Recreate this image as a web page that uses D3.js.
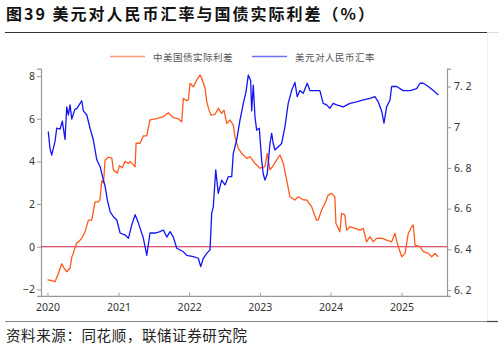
<!DOCTYPE html>
<html><head><meta charset="utf-8">
<script src="https://cdn.jsdelivr.net/npm/d3@7"></script>
<style>
html,body{margin:0;padding:0;background:#fff;}
svg{display:block;}
</style>
</head><body>
<svg id="c" width="504" height="348"></svg>
<script>
// ---- data (decimal year, value) ----
const titleText = "图39 美元对人民币汇率与国债实际利差（%）";
const sourceText = "资料来源：同花顺，联储证券研究院";
const seriesNames = ["中美国债实际利差", "美元对人民币汇率"];
const yearTicks = [2020, 2021, 2022, 2023, 2024, 2025];
const leftTicks = [-2, 0, 2, 4, 6, 8];
const rightTicks = [6.2, 6.4, 6.6, 6.8, 7.0, 7.2];

// 中美国债实际利差 (left axis, %)
const spreadData = [
[2020.00,-1.55],[2020.05,-1.58],[2020.106,-1.64],[2020.148,-1.3],[2020.20,-0.8],[2020.233,-1.0],
[2020.27,-1.17],[2020.318,-1.0],[2020.342,-0.5],[2020.364,-0.3],[2020.41,0.17],[2020.445,0.25],
[2020.483,0.4],[2020.53,0.7],[2020.576,1.25],[2020.624,1.25],[2020.671,2.1],[2020.717,2.1],
[2020.74,2.2],[2020.766,3.1],[2020.79,3.0],[2020.812,4.05],[2020.859,4.2],[2020.907,4.15],
[2020.929,3.6],[2020.986,3.45],[2021.014,3.8],[2021.052,3.7],[2021.095,4.0],[2021.141,3.9],
[2021.165,4.0],[2021.208,3.85],[2021.236,3.75],[2021.25,4.85],[2021.306,4.85],[2021.353,5.2],
[2021.40,5.2],[2021.447,5.95],[2021.542,6.0],[2021.636,6.1],[2021.706,6.28],[2021.777,6.05],
[2021.843,6.0],[2021.895,5.86],[2021.918,6.95],[2021.966,6.85],[2021.989,6.88],[2022.013,7.66],
[2022.059,7.5],[2022.107,7.81],[2022.154,8.05],[2022.178,7.9],[2022.225,7.43],[2022.249,6.8],
[2022.281,6.4],[2022.309,6.17],[2022.366,6.2],[2022.412,6.49],[2022.46,6.25],[2022.493,6.4],
[2022.531,5.78],[2022.578,5.94],[2022.624,5.7],[2022.648,5.16],[2022.695,4.61],[2022.743,4.38],
[2022.814,4.14],[2022.86,4.22],[2022.93,3.91],[2023.001,3.68],[2023.072,3.75],[2023.104,4.38],
[2023.143,3.6],[2023.189,3.8],[2023.237,4.06],[2023.284,4.3],[2023.331,3.91],[2023.379,3.13],
[2023.425,2.34],[2023.496,2.19],[2023.542,2.34],[2023.613,2.2],[2023.661,2.19],[2023.732,1.88],
[2023.80,1.25],[2023.825,1.25],[2023.873,1.72],[2023.92,2.03],[2023.966,2.42],[2024.014,2.5],
[2024.06,2.34],[2024.075,1.1],[2024.131,0.7],[2024.155,1.56],[2024.201,1.49],[2024.226,0.78],
[2024.272,0.94],[2024.343,0.86],[2024.414,0.78],[2024.46,0.86],[2024.508,0.23],[2024.555,0.47],
[2024.602,0.23],[2024.65,0.39],[2024.72,0.4],[2024.79,0.31],[2024.861,0.23],[2024.908,0.63],
[2024.94,0.16],[2025.003,-0.47],[2025.05,-0.31],[2025.096,0.63],[2025.144,0.94],[2025.167,1.02],
[2025.191,0.08],[2025.261,0.0],[2025.308,-0.23],[2025.379,-0.31],[2025.427,-0.47],[2025.473,-0.31],
[2025.52,-0.47]
];

// 美元对人民币汇率 (right axis)
const fxData = [
[2020.011,6.978],[2020.035,6.896],[2020.059,6.863],[2020.106,6.93],[2020.13,6.995],[2020.177,6.99],
[2020.209,7.03],[2020.247,6.94],[2020.271,7.10],[2020.294,7.06],[2020.318,7.11],[2020.342,7.04],
[2020.388,7.09],[2020.412,7.09],[2020.459,7.117],[2020.483,7.13],[2020.506,7.08],[2020.554,7.06],
[2020.60,6.995],[2020.647,6.937],[2020.695,6.84],[2020.742,6.806],[2020.788,6.74],[2020.812,6.71],
[2020.845,6.64],[2020.883,6.585],[2020.929,6.56],[2020.977,6.544],[2021.024,6.48],[2021.095,6.47],
[2021.141,6.454],[2021.189,6.52],[2021.236,6.57],[2021.282,6.53],[2021.353,6.454],[2021.401,6.37],
[2021.447,6.48],[2021.518,6.48],[2021.589,6.487],[2021.636,6.495],[2021.684,6.46],[2021.73,6.487],
[2021.777,6.46],[2021.825,6.405],[2021.918,6.388],[2021.966,6.37],[2022.059,6.364],[2022.13,6.356],
[2022.164,6.315],[2022.20,6.356],[2022.249,6.38],[2022.295,6.397],[2022.319,6.577],[2022.342,6.61],
[2022.376,6.79],[2022.412,6.675],[2022.46,6.74],[2022.507,6.716],[2022.554,6.757],[2022.602,6.757],
[2022.624,6.87],[2022.672,6.937],[2022.719,7.035],[2022.766,7.117],[2022.804,7.174],[2022.836,7.256],
[2022.87,7.23],[2022.884,7.08],[2022.907,7.207],[2022.931,7.05],[2022.955,6.986],[2022.992,6.995],
[2023.025,6.84],[2023.048,6.77],[2023.072,6.74],[2023.104,6.77],[2023.143,6.92],[2023.167,6.97],
[2023.189,6.92],[2023.213,6.888],[2023.26,6.904],[2023.308,6.92],[2023.354,7.0],[2023.401,7.117],
[2023.449,7.18],[2023.496,7.22],[2023.528,7.15],[2023.566,7.18],[2023.613,7.167],[2023.67,7.216],
[2023.708,7.18],[2023.849,7.18],[2023.895,7.117],[2023.944,7.11],[2023.99,7.093],[2024.037,7.117],
[2024.085,7.11],[2024.178,7.10],[2024.273,7.117],[2024.367,7.125],[2024.46,7.134],[2024.555,7.142],
[2024.625,7.15],[2024.672,7.125],[2024.72,7.08],[2024.753,7.02],[2024.79,7.10],[2024.838,7.134],
[2024.861,7.2],[2024.932,7.2],[2025.025,7.18],[2025.12,7.18],[2025.215,7.19],[2025.261,7.216],
[2025.308,7.216],[2025.379,7.2],[2025.45,7.18],[2025.52,7.158]
];

// ---- helpers ----
function toDate(t){
  const y = Math.floor(t);
  const a = new Date(y,0,1), b = new Date(y+1,0,1);
  return new Date(+a + (t-y)*(b-a));
}

const svg = d3.select("#c");
const font = "'Noto Sans CJK SC','Noto Sans',sans-serif";

const plotL = 41, plotR = 447, plotT = 68.6, plotB = 295.8;

const x = d3.scaleTime()
  .domain([new Date(2020,0,1), new Date(2025,0,1)])
  .range([47.5, 401.5]);
const yL = d3.scaleLinear().domain([-2.3, 8.35]).range([plotB, plotT]);
const yR = d3.scaleLinear().domain([6.1715, 7.288]).range([plotB, plotT]);

// title
svg.append("text").attr("x",6).attr("y",20)
  .attr("font-family",font).attr("font-weight","bold").attr("font-size",16)
  .attr("letter-spacing","2px")
  .attr("fill","#111").text(titleText);
svg.append("line").attr("x1",5).attr("x2",487).attr("y1",32.5).attr("y2",32.5)
  .attr("stroke","#333").attr("stroke-width",1);
svg.append("line").attr("x1",487).attr("x2",499).attr("y1",32.5).attr("y2",32.5)
  .attr("stroke","#ddd").attr("stroke-width",1);
svg.append("line").attr("x1",487.5).attr("x2",487.5).attr("y1",33).attr("y2",320)
  .attr("stroke","#f0f0f0").attr("stroke-width",1);
// footer
svg.append("line").attr("x1",5).attr("x2",487).attr("y1",321.5).attr("y2",321.5)
  .attr("stroke","#888").attr("stroke-width",1);
svg.append("line").attr("x1",487).attr("x2",498).attr("y1",321.5).attr("y2",321.5)
  .attr("stroke","#444").attr("stroke-width",1.2);
svg.append("text").attr("x",6).attr("y",341)
  .attr("font-family",font).attr("font-size",14.5).attr("letter-spacing","0.6px")
  .attr("fill","#222").text(sourceText);

// axes
const axisColor = "#999";
const gL = svg.append("g").attr("transform",`translate(${plotL},0)`)
  .call(d3.axisLeft(yL).tickValues(leftTicks).tickSize(4).tickFormat(d=>d===0?"0":(d<0?"\u2212"+Math.abs(d):d)));
const gR = svg.append("g").attr("transform",`translate(${plotR},0)`)
  .call(d3.axisRight(yR).tickValues(rightTicks).tickSize(4).tickFormat(d=>d===7?"7":d3.format(".1f")(d).replace(".",". ")));
const gX = svg.append("g").attr("transform",`translate(0,${plotB})`)
  .call(d3.axisBottom(x).tickValues(yearTicks.map(y=>new Date(y,0,1))).tickSize(-3).tickPadding(6).tickFormat(d3.timeFormat("%Y")));
gX.select(".domain").attr("d",`M${plotL},0.5H${plotR}`);
[gL,gR,gX].forEach(g=>{
  g.select(".domain").attr("stroke",axisColor).attr("stroke-width",1.2);
  g.selectAll(".tick line").attr("stroke",axisColor);
  g.selectAll(".tick text").attr("fill","#333").attr("font-size",10.5).attr("font-family","'Noto Sans','DejaVu Sans',sans-serif");
});
gR.selectAll(".tick text").attr("x",7);
gL.selectAll(".tick text").attr("x",-6);
gX.selectAll(".tick text").attr("dy","0.9em");

// zero line
svg.append("line").attr("x1",plotL).attr("x2",plotR)
  .attr("y1",yL(0)).attr("y2",yL(0))
  .attr("stroke","#d0204a").attr("stroke-width",1.1);

// series lines
const lineL = d3.line().x(d=>x(toDate(d[0]))).y(d=>yL(d[1]));
const lineR = d3.line().x(d=>x(toDate(d[0]))).y(d=>yR(d[1]));
svg.append("path").datum(spreadData).attr("d",lineL)
  .attr("fill","none").attr("stroke","#ff5a1e").attr("stroke-width",1.3).attr("stroke-linejoin","round");
svg.append("path").datum(fxData).attr("d",lineR)
  .attr("fill","none").attr("stroke","#1414f5").attr("stroke-width",1.3).attr("stroke-linejoin","round");

// legend
const legend = [
  {name: seriesNames[0], color:"#ff5a1e", x:110},
  {name: seriesNames[1], color:"#1414f5", x:252}
];
legend.forEach(l=>{
  svg.append("line").attr("x1",l.x).attr("x2",l.x+35).attr("y1",56.5).attr("y2",56.5)
    .attr("stroke",l.color).attr("stroke-width",1.4).attr("opacity",0.6);
  svg.append("text").attr("x",l.x+43).attr("y",60.5)
    .attr("font-family",font).attr("font-size",9.5).attr("letter-spacing","0.5px")
    .attr("fill","#555").text(l.name);
});
</script>
</body></html>
